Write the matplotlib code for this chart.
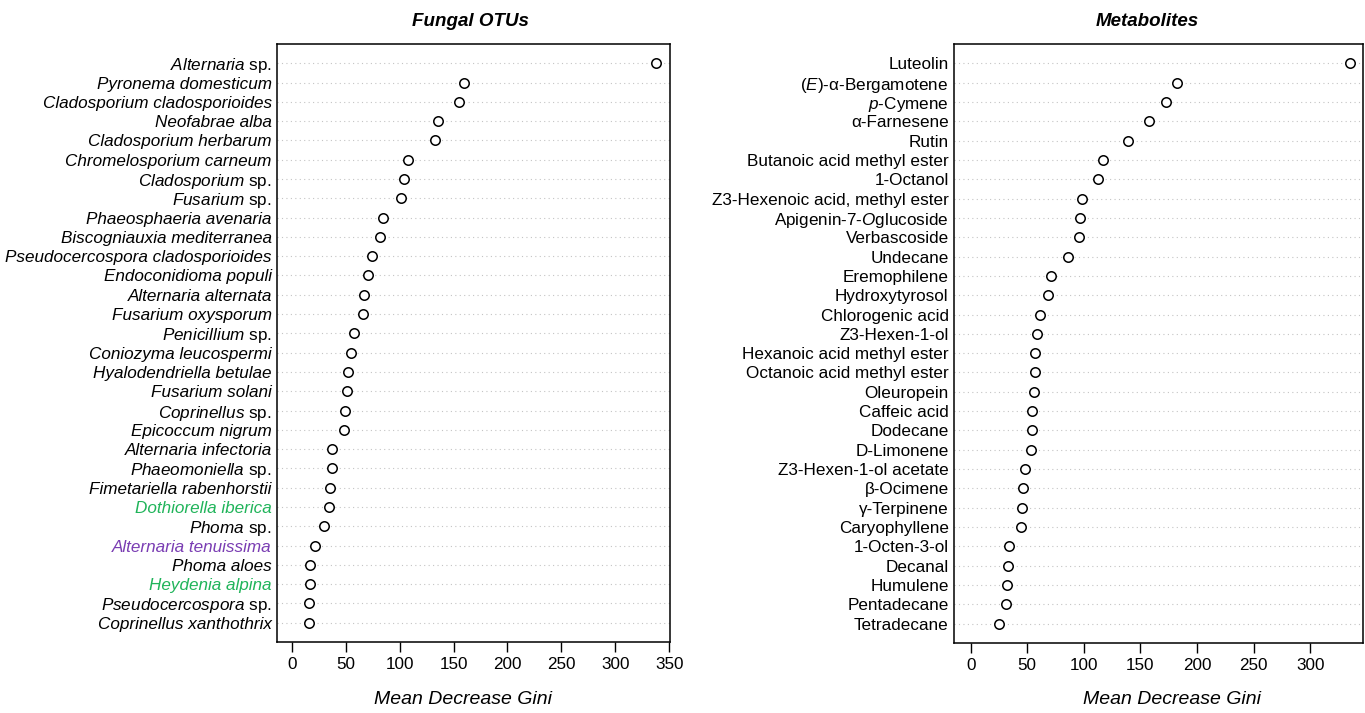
import matplotlib
matplotlib.use("Agg")
import matplotlib.pyplot as plt
from matplotlib import font_manager

# Fungal OTU importance (Mean Decrease Gini), top to bottom
fungi_labels = [
    r"$\mathit{Alternaria}$ sp.",
    "Pyronema domesticum",
    "Cladosporium cladosporioides",
    "Neofabrae alba",
    "Cladosporium herbarum",
    "Chromelosporium carneum",
    r"$\mathit{Cladosporium}$ sp.",
    r"$\mathit{Fusarium}$ sp.",
    "Phaeosphaeria avenaria",
    "Biscogniauxia mediterranea",
    "Pseudocercospora cladosporioides",
    "Endoconidioma populi",
    "Alternaria alternata",
    "Fusarium oxysporum",
    r"$\mathit{Penicillium}$ sp.",
    "Coniozyma leucospermi",
    "Hyalodendriella betulae",
    "Fusarium solani",
    r"$\mathit{Coprinellus}$ sp.",
    "Epicoccum nigrum",
    "Alternaria infectoria",
    r"$\mathit{Phaeomoniella}$ sp.",
    "Fimetariella rabenhorstii",
    "Dothiorella iberica",
    r"$\mathit{Phoma}$ sp.",
    "Alternaria tenuissima",
    "Phoma aloes",
    "Heydenia alpina",
    r"$\mathit{Pseudocercospora}$ sp.",
    "Coprinellus xanthothrix",
]
fungi_values = [
    337.6, 159.7, 155.1, 135.6, 133.1, 107.5, 104.1, 101.0, 84.6, 82.1,
    74.1, 70.4, 67.3, 66.1, 57.7, 55.3, 52.2, 51.0, 49.7, 48.8,
    37.2, 37.0, 35.8, 34.6, 29.9, 21.9, 17.3, 17.2, 16.3, 16.0,
]
fungi_colors = {
    "Dothiorella iberica": "#20b45a",
    "Heydenia alpina": "#20b45a",
    "Alternaria tenuissima": "#7a3db3",
}

# Metabolite importance (Mean Decrease Gini), top to bottom
metab_labels = [
    "Luteolin",
    r"($\mathit{E}$)-α-Bergamotene",
    r"$\mathit{p}$-Cymene",
    "α-Farnesene",
    "Rutin",
    "Butanoic acid methyl ester",
    "1-Octanol",
    "Z3-Hexenoic acid, methyl ester",
    r"Apigenin-7-$\mathit{O}$glucoside",
    "Verbascoside",
    "Undecane",
    "Eremophilene",
    "Hydroxytyrosol",
    "Chlorogenic acid",
    "Z3-Hexen-1-ol",
    "Hexanoic acid methyl ester",
    "Octanoic acid methyl ester",
    "Oleuropein",
    "Caffeic acid",
    "Dodecane",
    "D-Limonene",
    "Z3-Hexen-1-ol acetate",
    "β-Ocimene",
    "γ-Terpinene",
    "Caryophyllene",
    "1-Octen-3-ol",
    "Decanal",
    "Humulene",
    "Pentadecane",
    "Tetradecane",
]
metab_values = [
    335.1, 182.0, 172.3, 157.8, 139.0, 116.6, 112.7, 98.6, 96.6, 95.4,
    86.2, 71.2, 68.0, 61.0, 58.9, 57.1, 57.0, 56.2, 54.2, 53.9,
    53.0, 48.0, 45.9, 45.0, 44.9, 33.8, 33.0, 32.1, 30.9, 24.7,
]

fungi_ticks = [0, 50, 100, 150, 200, 250, 300, 350]
metab_ticks = [0, 50, 100, 150, 200, 250, 300]

installed = {f.name for f in font_manager.fontManager.ttflist}
family = "Liberation Sans" if "Liberation Sans" in installed else "DejaVu Sans"

plt.rcParams["font.family"] = [family, "DejaVu Sans"]
plt.rcParams["mathtext.fontset"] = "custom"
plt.rcParams["mathtext.rm"] = family
plt.rcParams["mathtext.it"] = family + ":italic"
plt.rcParams["mathtext.bf"] = family + ":bold"

LABEL_SIZE = 12.3
TICK_SIZE = 12.3

fig = plt.figure(figsize=(13.65, 7.13), dpi=100)
W, H = 1365, 713


def frac_axes(x0, x1, y0, y1):
    return fig.add_axes([x0 / W, 1 - y1 / H, (x1 - x0) / W, (y1 - y0) / H])


def dotchart(ax, labels, values, xlim, ticks, italic, colors=None):
    n = len(values)
    ys = list(range(n, 0, -1))
    for y in ys:
        ax.axhline(y, color="#c4c4c4", lw=0.8, dashes=(1, 3), zorder=1)
    ax.plot(values, ys, linestyle="none", marker="o", ms=6.8,
            mfc="white", mec="black", mew=1.1, zorder=3)
    ax.set_xlim(*xlim)
    ax.set_ylim(0, n + 1)
    ax.set_yticks(ys)
    ax.set_yticklabels(labels)
    ax.tick_params(axis="y", length=0, pad=3.8, labelsize=LABEL_SIZE)
    ax.set_xticks(ticks)
    ax.set_xticklabels([str(t) for t in ticks])
    ax.tick_params(axis="x", length=7, width=1.0, pad=4, labelsize=TICK_SIZE)
    for lab in ax.get_yticklabels():
        txt = lab.get_text()
        if italic and not txt.startswith("$"):
            lab.set_fontstyle("italic")
        if colors and txt in colors:
            lab.set_color(colors[txt])
    for s in ax.spines.values():
        s.set_linewidth(1.1)
        s.set_color("black")


ax1 = frac_axes(277, 670, 44, 642)
dotchart(ax1, fungi_labels, fungi_values, (-13.6, 350.6), fungi_ticks,
         italic=True, colors=fungi_colors)

ax2 = frac_axes(954, 1363, 44, 643)
dotchart(ax2, metab_labels, metab_values, (-14.7, 346.6), metab_ticks,
         italic=False)

fig.text(470 / W, 1 - 21 / H, "Fungal OTUs", ha="center", va="center",
         fontsize=13.5, fontweight="bold", fontstyle="italic")
fig.text(1147 / W, 1 - 21 / H, "Metabolites", ha="center", va="center",
         fontsize=13.5, fontweight="bold", fontstyle="italic")
fig.text(463 / W, 1 - 700 / H, "Mean Decrease Gini", ha="center", va="center",
         fontsize=14, fontstyle="italic")
fig.text(1172 / W, 1 - 700 / H, "Mean Decrease Gini", ha="center", va="center",
         fontsize=14, fontstyle="italic")

fig.savefig("out.png", dpi=100, facecolor="white")
